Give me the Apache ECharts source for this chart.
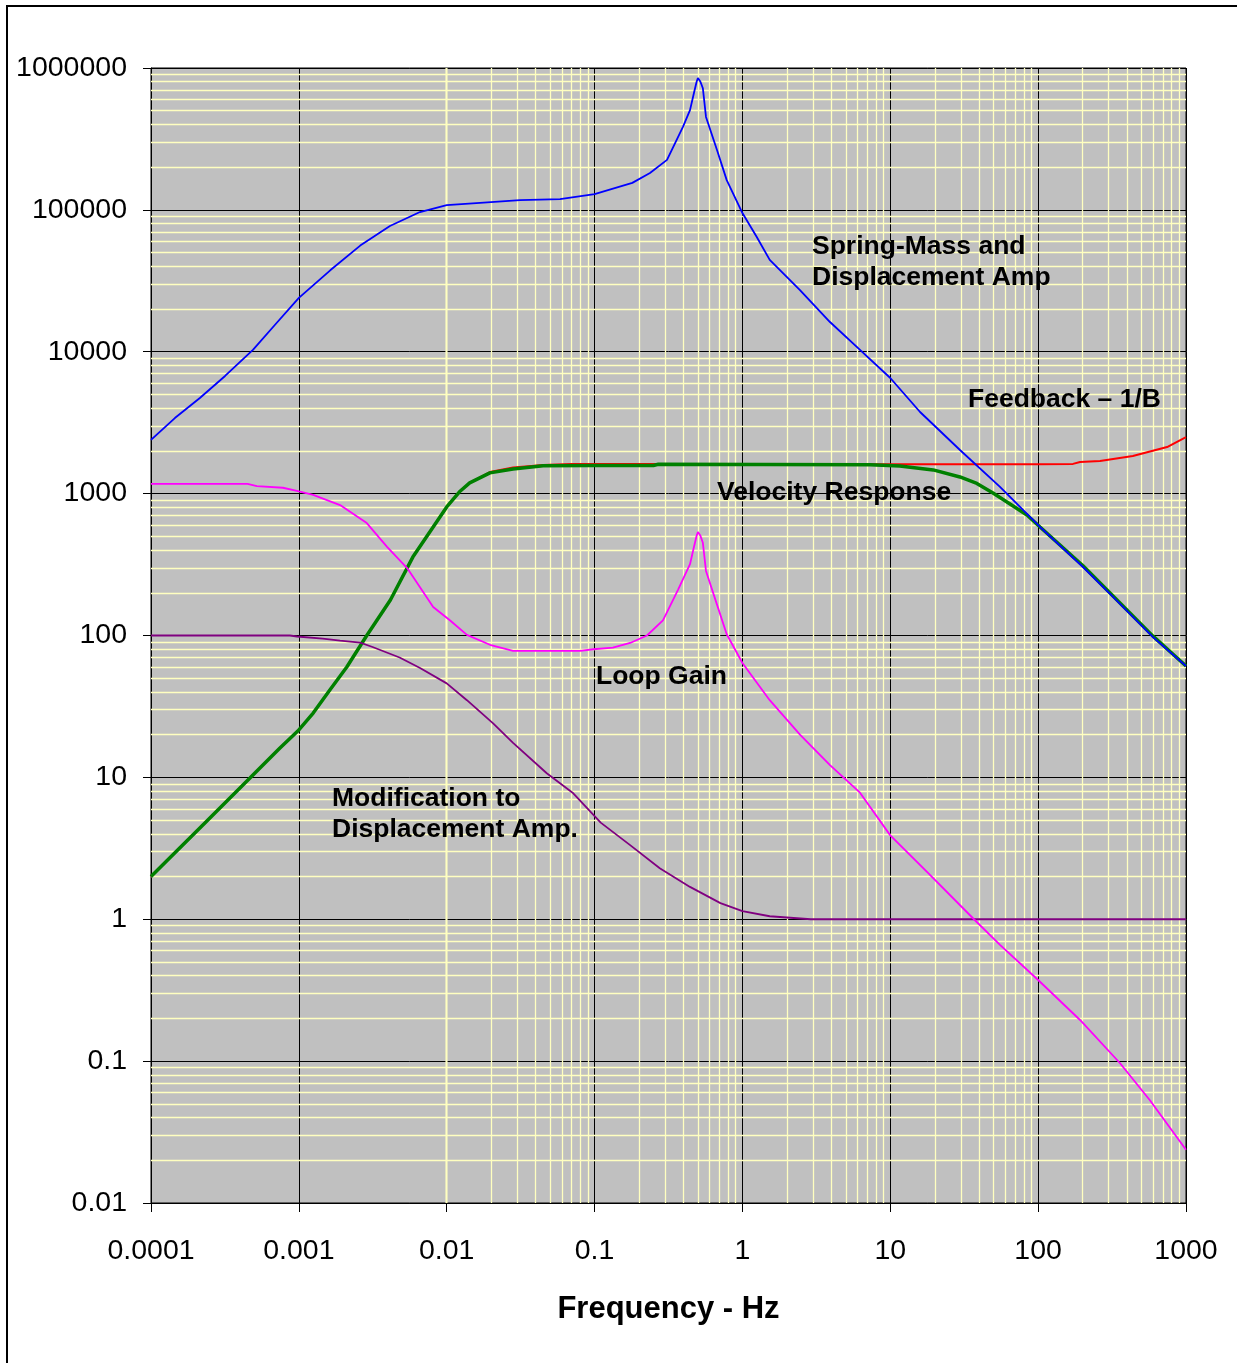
<!DOCTYPE html>
<html>
<head>
<meta charset="utf-8">
<script src="https://cdn.jsdelivr.net/npm/echarts@6/dist/echarts.min.js"></script>
<style>
html,body{margin:0;padding:0;background:#fff;}
#chart{width:1237px;height:1363px;}
</style>
</head>
<body>
<div id="chart"></div>
<script>
// ---- Data ----
const xTickLabels = ['0.0001', '0.001', '0.01', '0.1', '1', '10', '100', '1000'];
const yTickLabels = ['0.01', '0.1', '1', '10', '100', '1000', '10000', '100000', '1000000'];

// Spring-Mass and Displacement Amp (blue)
const springFreq = [0.0001, 0.000145, 0.000214, 0.000317, 0.000489, 0.00069, 0.001, 0.00163, 0.0026, 0.00413, 0.00659, 0.01, 0.0168, 0.0313, 0.0584, 0.1, 0.18, 0.237, 0.309, 0.396, 0.442, 0.47, 0.49, 0.5, 0.51, 0.52, 0.54, 0.567, 0.673, 0.783, 1.0, 1.25, 1.53, 2.45, 3.91, 6.24, 10, 15.9, 29.6, 55.2, 103, 201, 321, 598, 1000];
const springVal = [2390, 3410, 4720, 6750, 10300, 15500, 24000, 37500, 56000, 76900, 96600, 108000, 112000, 117000, 119000, 129000, 155000, 182000, 225000, 385000, 505000, 667000, 800000, 850000, 840000, 800000, 720000, 452000, 264000, 162000, 95000, 64400, 44400, 27200, 16200, 10300, 6530, 3760, 2030, 1115, 582, 304, 187, 97.5, 61];

// Velocity Response (green)
const velFreq = [0.0001, 0.000214, 0.000467, 0.000745, 0.001, 0.00125, 0.00162, 0.00211, 0.00288, 0.00416, 0.0059, 0.009, 0.01, 0.0122, 0.0143, 0.0196, 0.0281, 0.0449, 0.098, 0.25, 0.27, 7.3, 11.6, 19.5, 29.6, 38.5, 49.5, 61.5, 84, 103, 201, 321, 598, 1000];
const velVal = [2.0, 4.4, 9.9, 16.1, 21.6, 28.4, 41.3, 60, 100, 178, 357, 684, 805, 1030, 1190, 1400, 1490, 1570, 1580, 1580, 1610, 1600, 1566, 1470, 1310, 1180, 1009, 873, 707, 582, 310, 190, 99, 61];

// Feedback - 1/B (red)
const fbFreq = [0.0001, 0.000214, 0.000467, 0.000745, 0.001, 0.00125, 0.00162, 0.00211, 0.00288, 0.00416, 0.0059, 0.009, 0.01, 0.0122, 0.0143, 0.0196, 0.0281, 0.0449, 0.07, 0.25, 0.27, 10, 100, 172, 192, 262, 437, 745, 1000];
const fbVal = [2.0, 4.4, 9.9, 16.1, 21.6, 28.4, 41.3, 60, 100, 178, 357, 684, 805, 1030, 1190, 1420, 1530, 1590, 1620, 1620, 1615, 1610, 1610, 1620, 1670, 1700, 1840, 2130, 2500];

// Loop Gain (magenta)
const loopFreq = [0.0001, 0.00045, 0.00052, 0.00078, 0.00097, 0.00125, 0.0019, 0.00288, 0.00395, 0.0054, 0.0081, 0.0105, 0.0137, 0.0196, 0.0281, 0.08, 0.098, 0.133, 0.174, 0.226, 0.29, 0.366, 0.442, 0.47, 0.49, 0.5, 0.51, 0.52, 0.54, 0.567, 0.673, 0.783, 1, 1.53, 2.45, 3.91, 6.24, 10, 18.2, 36.8, 55.2, 100, 192, 357, 570, 1000];
const loopVal = [1170, 1170, 1130, 1100, 1045, 980, 830, 620, 421, 299, 159, 128, 101, 86, 78, 78, 80, 82, 88.6, 100, 128, 209, 318, 420, 505, 537, 530, 505, 450, 285, 165, 102, 64, 35, 20, 12.2, 7.8, 3.9, 2.1, 1.0, 0.66, 0.373, 0.195, 0.097, 0.053, 0.0237];

// Modification to Displacement Amp. (purple)
const modFreq = [0.0001, 0.00087, 0.00097, 0.00145, 0.0019, 0.0026, 0.00315, 0.0048, 0.0066, 0.01, 0.0137, 0.0206, 0.0281, 0.0475, 0.071, 0.11, 0.174, 0.276, 0.442, 0.71, 1, 1.53, 2.9, 1000];
const modVal = [100, 100, 98.4, 95, 92, 89, 83, 70, 59, 46, 35, 24, 17.5, 10.7, 7.8, 4.8, 3.33, 2.29, 1.69, 1.30, 1.14, 1.05, 1.0, 1.0];

// ---- build ----
function zip(f, v) { return f.map((x, i) => [x, v[i]]); }
function logIdx(v) { return Math.round(Math.log10(v)); }

// minor grid positions (2..9 within each decade)
const minorX = [], minorY = [];
for (let d = -4; d <= 2; d++) for (let m = 2; m <= 9; m++) minorX.push(m * Math.pow(10, d));
for (let d = -2; d <= 5; d++) for (let m = 2; m <= 9; m++) minorY.push(m * Math.pow(10, d));

const FONT = "'Liberation Sans', Arial, sans-serif";
const chart = echarts.init(document.getElementById('chart'), null, { renderer: 'canvas' });

const lineBase = { type: 'line', showSymbol: false, symbol: 'none', smooth: false, animation: false, z: 10 };

const minorLines = [];
minorX.forEach(v => minorLines.push({ xAxis: v }));
minorY.forEach(v => minorLines.push({ yAxis: v }));

const labels = [
  ['Spring-Mass and', 812, 247],
  ['Displacement Amp', 812, 278],
  ['Feedback \u2013 1/B', 968, 400],
  ['Velocity Response', 717, 493],
  ['Loop Gain', 596, 677],
  ['Modification to', 332, 799],
  ['Displacement Amp.', 332, 830]
];

chart.setOption({
  animation: false,
  backgroundColor: '#fff',
  grid: {
    left: 151, top: 68, right: 51, bottom: 160,
    show: true, backgroundColor: '#c0c0c0', borderColor: '#000', borderWidth: 1,
    containLabel: false
  },
  xAxis: {
    type: 'log', logBase: 10, min: 0.0001, max: 1000, interval: 1,
    name: 'Frequency - Hz', nameLocation: 'middle', nameGap: 91,
    nameTextStyle: { fontFamily: FONT, fontSize: 31, fontWeight: 'bold', color: '#000' },
    axisLine: { show: true, lineStyle: { color: '#000', width: 1 } },
    axisTick: { show: true, length: 9, lineStyle: { color: '#000' } },
    axisLabel: { margin: 34, fontFamily: FONT, fontSize: 28.5, color: '#000',
      formatter: v => xTickLabels[logIdx(v) + 4] },
    splitLine: { show: true, lineStyle: { color: '#000', width: 1 } }
  },
  yAxis: {
    type: 'log', logBase: 10, min: 0.01, max: 1000000, interval: 1,
    axisLine: { show: true, lineStyle: { color: '#000', width: 1 } },
    axisTick: { show: true, length: 8, lineStyle: { color: '#000' } },
    axisLabel: { margin: 24, fontFamily: FONT, fontSize: 28.5, color: '#000',
      formatter: v => yTickLabels[logIdx(v) + 2] },
    splitLine: { show: true, lineStyle: { color: '#000', width: 1 } }
  },
  series: [
    {
      type: 'line', data: [], silent: true, z: 1,
      markLine: {
        silent: true, symbol: ['none', 'none'], animation: false, z: 1,
        label: { show: false },
        lineStyle: { color: '#ffffc0', width: 1.3, type: 'solid', opacity: 1 },
        emphasis: { disabled: true },
        data: minorLines
      }
    },
    Object.assign({}, lineBase, { name: 'Feedback - 1/B', data: zip(fbFreq, fbVal),
      lineStyle: { color: '#ff0000', width: 2 }, itemStyle: { color: '#ff0000' } }),
    Object.assign({}, lineBase, { name: 'Velocity Response', data: zip(velFreq, velVal),
      lineStyle: { color: '#008000', width: 3.5 }, itemStyle: { color: '#008000' } }),
    Object.assign({}, lineBase, { name: 'Modification to Displacement Amp.', data: zip(modFreq, modVal),
      lineStyle: { color: '#800080', width: 1.8 }, itemStyle: { color: '#800080' } }),
    Object.assign({}, lineBase, { name: 'Loop Gain', data: zip(loopFreq, loopVal),
      lineStyle: { color: '#ff00ff', width: 1.8 }, itemStyle: { color: '#ff00ff' } }),
    Object.assign({}, lineBase, { name: 'Spring-Mass and Displacement Amp', data: zip(springFreq, springVal),
      lineStyle: { color: '#0000ff', width: 1.8 }, itemStyle: { color: '#0000ff' } })
  ],
  graphic: [
    { type: 'rect', silent: true, z: 100,
      shape: { x: 7, y: 6, width: 1260, height: 1400 },
      style: { fill: null, stroke: '#000', lineWidth: 2 } }
  ].concat(labels.map(l => ({
    type: 'text', silent: true, z: 100,
    style: { text: l[0], x: l[1], y: l[2], textAlign: 'left', textVerticalAlign: 'middle',
      font: "bold 26.5px 'Liberation Sans', Arial, sans-serif", fill: '#000' }
  })))
});
</script>
</body>
</html>
